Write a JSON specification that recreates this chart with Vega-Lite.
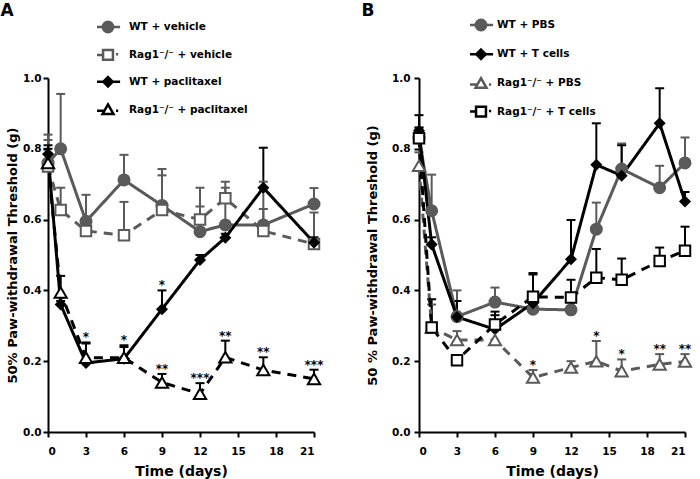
{
  "$schema": "https://vega.github.io/schema/vega-lite/v6.json",
  "padding": {"left": 0, "top": 2, "right": 0, "bottom": 0},
  "background": "white",
  "config": {
    "view": {"stroke": null},
    "font": "DejaVu Sans",
    "axis": {
      "grid": false, "domainColor": "#000", "domainWidth": 2, "tickColor": "#000", "tickWidth": 2, "tickSize": 5,
      "labelFont": "DejaVu Sans", "labelFontWeight": "bold", "labelFontSize": 10.5, "labelColor": "#000",
      "titleFont": "DejaVu Sans", "titleFontWeight": "bold", "titleFontSize": 13, "titleColor": "#000"
    },
    "title": {"font": "DejaVu Sans", "fontWeight": "bold", "fontSize": 17, "color": "#000", "anchor": "start", "frame": "bounds"}
  },
  "datasets": {
    "a": [
      {"group": "WT + vehicle", "day": 0, "v": 0.76, "up": 0.84},
      {"group": "WT + vehicle", "day": 1, "v": 0.80, "up": 0.955},
      {"group": "WT + vehicle", "day": 3, "v": 0.595, "up": 0.67},
      {"group": "WT + vehicle", "day": 6, "v": 0.712, "up": 0.783},
      {"group": "WT + vehicle", "day": 9, "v": 0.64, "up": 0.743},
      {"group": "WT + vehicle", "day": 12, "v": 0.566, "up": 0.69},
      {"group": "WT + vehicle", "day": 14, "v": 0.585, "up": 0.707},
      {"group": "WT + vehicle", "day": 17, "v": 0.585, "up": 0.707},
      {"group": "WT + vehicle", "day": 21, "v": 0.644, "up": 0.689},
      {"group": "Rag1⁻/⁻ + vehicle", "day": 0, "v": 0.75, "up": 0.825},
      {"group": "Rag1⁻/⁻ + vehicle", "day": 1, "v": 0.627, "up": 0.69},
      {"group": "Rag1⁻/⁻ + vehicle", "day": 3, "v": 0.568, "up": 0.59},
      {"group": "Rag1⁻/⁻ + vehicle", "day": 6, "v": 0.556, "up": 0.65},
      {"group": "Rag1⁻/⁻ + vehicle", "day": 9, "v": 0.627, "up": 0.725},
      {"group": "Rag1⁻/⁻ + vehicle", "day": 12, "v": 0.60, "up": 0.637},
      {"group": "Rag1⁻/⁻ + vehicle", "day": 14, "v": 0.66, "up": 0.69},
      {"group": "Rag1⁻/⁻ + vehicle", "day": 17, "v": 0.568, "up": 0.63},
      {"group": "Rag1⁻/⁻ + vehicle", "day": 21, "v": 0.531, "up": 0.62},
      {"group": "WT + paclitaxel", "day": 0, "v": 0.785, "up": 0.81},
      {"group": "WT + paclitaxel", "day": 1, "v": 0.36, "up": 0.37},
      {"group": "WT + paclitaxel", "day": 3, "v": 0.195, "up": 0.253, "star": "*"},
      {"group": "WT + paclitaxel", "day": 6, "v": 0.207, "up": 0.245, "star": "*"},
      {"group": "WT + paclitaxel", "day": 9, "v": 0.347, "up": 0.40, "star": "*"},
      {"group": "WT + paclitaxel", "day": 12, "v": 0.486, "up": 0.50},
      {"group": "WT + paclitaxel", "day": 14, "v": 0.549, "up": 0.56},
      {"group": "WT + paclitaxel", "day": 17, "v": 0.69, "up": 0.803},
      {"group": "WT + paclitaxel", "day": 21, "v": 0.535, "up": 0.55},
      {"group": "Rag1⁻/⁻ + paclitaxel", "day": 0, "v": 0.76, "up": 0.80},
      {"group": "Rag1⁻/⁻ + paclitaxel", "day": 1, "v": 0.394, "up": 0.441},
      {"group": "Rag1⁻/⁻ + paclitaxel", "day": 3, "v": 0.21, "up": 0.25},
      {"group": "Rag1⁻/⁻ + paclitaxel", "day": 6, "v": 0.21, "up": 0.24},
      {"group": "Rag1⁻/⁻ + paclitaxel", "day": 9, "v": 0.14, "up": 0.164, "star": "**"},
      {"group": "Rag1⁻/⁻ + paclitaxel", "day": 12, "v": 0.108, "up": 0.138, "star": "***"},
      {"group": "Rag1⁻/⁻ + paclitaxel", "day": 14, "v": 0.211, "up": 0.258, "star": "**"},
      {"group": "Rag1⁻/⁻ + paclitaxel", "day": 17, "v": 0.175, "up": 0.211, "star": "**"},
      {"group": "Rag1⁻/⁻ + paclitaxel", "day": 21, "v": 0.15, "up": 0.176, "star": "***"}
    ],
    "b": [
      {"group": "WT + PBS", "day": 0, "v": 0.83, "up": 0.86},
      {"group": "WT + PBS", "day": 1, "v": 0.625, "up": 0.727},
      {"group": "WT + PBS", "day": 3, "v": 0.326, "up": 0.40},
      {"group": "WT + PBS", "day": 6, "v": 0.367, "up": 0.408},
      {"group": "WT + PBS", "day": 9, "v": 0.347, "up": 0.37},
      {"group": "WT + PBS", "day": 12, "v": 0.345, "up": 0.38},
      {"group": "WT + PBS", "day": 14, "v": 0.573, "up": 0.648},
      {"group": "WT + PBS", "day": 16, "v": 0.743, "up": 0.815},
      {"group": "WT + PBS", "day": 19, "v": 0.69, "up": 0.752},
      {"group": "WT + PBS", "day": 21, "v": 0.76, "up": 0.832},
      {"group": "WT + T cells", "day": 0, "v": 0.851, "up": 0.895},
      {"group": "WT + T cells", "day": 1, "v": 0.53, "up": 0.55},
      {"group": "WT + T cells", "day": 3, "v": 0.325, "up": 0.37},
      {"group": "WT + T cells", "day": 6, "v": 0.29, "up": 0.34},
      {"group": "WT + T cells", "day": 9, "v": 0.364, "up": 0.445},
      {"group": "WT + T cells", "day": 12, "v": 0.488, "up": 0.599},
      {"group": "WT + T cells", "day": 14, "v": 0.755, "up": 0.872},
      {"group": "WT + T cells", "day": 16, "v": 0.724, "up": 0.81},
      {"group": "WT + T cells", "day": 19, "v": 0.872, "up": 0.971},
      {"group": "WT + T cells", "day": 21, "v": 0.651, "up": 0.678},
      {"group": "Rag1⁻/⁻ + PBS", "day": 0, "v": 0.752, "up": 0.79},
      {"group": "Rag1⁻/⁻ + PBS", "day": 1, "v": 0.295, "up": 0.36},
      {"group": "Rag1⁻/⁻ + PBS", "day": 3, "v": 0.26, "up": 0.285},
      {"group": "Rag1⁻/⁻ + PBS", "day": 6, "v": 0.26, "up": 0.29},
      {"group": "Rag1⁻/⁻ + PBS", "day": 9, "v": 0.154, "up": 0.175, "star": "*"},
      {"group": "Rag1⁻/⁻ + PBS", "day": 12, "v": 0.182, "up": 0.20},
      {"group": "Rag1⁻/⁻ + PBS", "day": 14, "v": 0.20, "up": 0.257, "star": "*"},
      {"group": "Rag1⁻/⁻ + PBS", "day": 16, "v": 0.172, "up": 0.205, "star": "*"},
      {"group": "Rag1⁻/⁻ + PBS", "day": 19, "v": 0.191, "up": 0.22, "star": "**"},
      {"group": "Rag1⁻/⁻ + PBS", "day": 21, "v": 0.199, "up": 0.22, "star": "**"},
      {"group": "Rag1⁻/⁻ + T cells", "day": 0, "v": 0.83, "up": 0.86},
      {"group": "Rag1⁻/⁻ + T cells", "day": 1, "v": 0.295, "up": 0.375},
      {"group": "Rag1⁻/⁻ + T cells", "day": 3, "v": 0.203, "up": 0.215},
      {"group": "Rag1⁻/⁻ + T cells", "day": 6, "v": 0.304, "up": 0.33},
      {"group": "Rag1⁻/⁻ + T cells", "day": 9, "v": 0.382, "up": 0.449},
      {"group": "Rag1⁻/⁻ + T cells", "day": 12, "v": 0.38, "up": 0.43},
      {"group": "Rag1⁻/⁻ + T cells", "day": 14, "v": 0.436, "up": 0.517},
      {"group": "Rag1⁻/⁻ + T cells", "day": 16, "v": 0.43, "up": 0.49},
      {"group": "Rag1⁻/⁻ + T cells", "day": 19, "v": 0.483, "up": 0.521},
      {"group": "Rag1⁻/⁻ + T cells", "day": 21, "v": 0.512, "up": 0.58}
    ]
  },
  "spacing": 36,
  "resolve": {"scale": {"x": "independent", "y": "independent", "color": "independent", "strokeDash": "independent", "shape": "independent", "fill": "independent", "stroke": "independent", "size": "independent"}},
  "hconcat": [
    {
      "title": {"text": "A", "dx": -6, "offset": 0},
      "width": 266, "height": 354,
      "data": {"name": "a"},
      "resolve": {"scale": {"shape": "independent", "fill": "independent", "stroke": "independent", "size": "independent"}},
      "encoding": {
        "x": {"field": "day", "type": "quantitative", "scale": {"domain": [0, 21], "nice": false},
              "axis": {"values": [0, 3, 6, 9, 12, 15, 18, 21], "title": "Time (days)", "labelPadding": 9, "titlePadding": 8, "titleFontSize": 14}},
        "y": {"field": "v", "type": "quantitative", "scale": {"domain": [0, 1], "nice": false},
              "axis": {"values": [0, 0.2, 0.4, 0.6, 0.8, 1], "format": ".1f", "title": "50% Paw-withdrawal Threshold (g)", "labelPadding": 2, "titlePadding": 3}}
      },
      "layer": [
        {
          "mark": {"type": "rule", "strokeWidth": 2},
          "encoding": {
            "y2": {"field": "up"},
            "color": {"field": "group", "type": "nominal", "legend": null,
                      "scale": {"domain": ["WT + vehicle", "Rag1⁻/⁻ + vehicle", "WT + paclitaxel", "Rag1⁻/⁻ + paclitaxel"], "range": ["#5a5a5a", "#5a5a5a", "#000000", "#000000"]}}
          }
        },
        {
          "mark": {"type": "tick", "orient": "horizontal", "size": 9, "thickness": 2, "opacity": 1},
          "encoding": {
            "y": {"field": "up", "type": "quantitative", "scale": {"domain": [0, 1], "nice": false},
                  "axis": {"values": [0, 0.2, 0.4, 0.6, 0.8, 1], "format": ".1f", "title": "50% Paw-withdrawal Threshold (g)", "labelPadding": 2, "titlePadding": 3}},
            "color": {"field": "group", "type": "nominal", "legend": null}
          }
        },
        {
          "mark": {"type": "line", "strokeWidth": 3},
          "encoding": {
            "color": {"field": "group", "type": "nominal", "legend": null},
            "strokeDash": {"field": "group", "type": "nominal", "legend": null,
                           "scale": {"domain": ["WT + vehicle", "Rag1⁻/⁻ + vehicle", "WT + paclitaxel", "Rag1⁻/⁻ + paclitaxel"], "range": [[1, 0], [9, 7], [1, 0], [9, 7]]}}
          }
        },
        {
          "mark": {"type": "point", "filled": true, "opacity": 1, "strokeWidth": 2},
          "encoding": {
            "shape": {"field": "group", "type": "nominal", "legend": null,
                      "scale": {"domain": ["WT + vehicle", "Rag1⁻/⁻ + vehicle", "WT + paclitaxel", "Rag1⁻/⁻ + paclitaxel"], "range": ["circle", "square", "diamond", "triangle-up"]}},
            "fill": {"field": "group", "type": "nominal", "legend": null,
                     "scale": {"domain": ["WT + vehicle", "Rag1⁻/⁻ + vehicle", "WT + paclitaxel", "Rag1⁻/⁻ + paclitaxel"], "range": ["#5a5a5a", "#ffffff", "#000000", "#ffffff"]}},
            "stroke": {"field": "group", "type": "nominal", "legend": null,
                       "scale": {"domain": ["WT + vehicle", "Rag1⁻/⁻ + vehicle", "WT + paclitaxel", "Rag1⁻/⁻ + paclitaxel"], "range": ["#5a5a5a", "#5a5a5a", "#000000", "#000000"]}},
            "size": {"field": "group", "type": "ordinal", "legend": null,
                     "scale": {"type": "ordinal", "domain": ["WT + vehicle", "Rag1⁻/⁻ + vehicle", "WT + paclitaxel", "Rag1⁻/⁻ + paclitaxel"], "range": [121, 110, 85, 150]}}
          }
        },
        {
          "transform": [{"filter": "datum.star"}],
          "mark": {"type": "text", "baseline": "alphabetic", "dy": -1, "fontSize": 12, "fontWeight": "bold", "fill": "#000"},
          "encoding": {
            "y": {"field": "up", "type": "quantitative", "scale": {"domain": [0, 1], "nice": false},
                  "axis": {"values": [0, 0.2, 0.4, 0.6, 0.8, 1], "format": ".1f", "title": "50% Paw-withdrawal Threshold (g)", "labelPadding": 2, "titlePadding": 3}},
            "text": {"field": "star"}
          }
        },
        {
          "transform": [{"filter": "false"}],
          "mark": {"type": "point", "filled": true, "opacity": 1},
          "encoding": {
            "shape": {"field": "group", "type": "nominal",
                      "scale": {"domain": ["WT + vehicle", "Rag1⁻/⁻ + vehicle", "WT + paclitaxel", "Rag1⁻/⁻ + paclitaxel"],
                                "range": ["M-2,0H2.2M0.95,0A0.95,0.95,0,1,1,-0.95,0A0.95,0.95,0,1,1,0.95,0Z",
                                          "M-2,0H-0.9M-0.9,-0.9H0.9V0.9H-0.9ZM1.45,-0.1H1.85",
                                          "M-2,0H2.2M0,-0.85L0.85,0L0,0.85L-0.85,0Z",
                                          "M-2,0.2H-0.7M0,-0.95L1,0.8H-1ZM1.45,0.2H1.85"]},
                      "legend": {"title": null, "orient": "none", "legendX": 53, "legendY": -58, "direction": "vertical",
                                 "symbolSize": 121, "symbolStrokeWidth": 2.5, "labelFont": "DejaVu Sans", "labelFontSize": 10.5,
                                 "labelFontWeight": "bold", "labelColor": "#000", "labelOffset": 14, "rowPadding": 6.9,
                                 "padding": 0, "labelLimit": 300}},
            "fill": {"field": "group", "type": "nominal",
                     "scale": {"domain": ["WT + vehicle", "Rag1⁻/⁻ + vehicle", "WT + paclitaxel", "Rag1⁻/⁻ + paclitaxel"], "range": ["#5a5a5a", "#ffffff", "#000000", "#ffffff"]}},
            "stroke": {"field": "group", "type": "nominal",
                       "scale": {"domain": ["WT + vehicle", "Rag1⁻/⁻ + vehicle", "WT + paclitaxel", "Rag1⁻/⁻ + paclitaxel"], "range": ["#5a5a5a", "#5a5a5a", "#000000", "#000000"]}}
          }
        }
      ]
    },
    {
      "title": {"text": "B", "dx": -5, "offset": -2},
      "width": 266, "height": 354,
      "data": {"name": "b"},
      "resolve": {"scale": {"shape": "independent", "fill": "independent", "stroke": "independent", "size": "independent"}},
      "encoding": {
        "x": {"field": "day", "type": "quantitative", "scale": {"domain": [0, 21], "nice": false},
              "axis": {"values": [0, 3, 6, 9, 12, 15, 18, 21], "title": "Time (days)", "labelPadding": 9, "titlePadding": 8, "titleFontSize": 14}},
        "y": {"field": "v", "type": "quantitative", "scale": {"domain": [0, 1], "nice": false},
              "axis": {"values": [0, 0.2, 0.4, 0.6, 0.8, 1], "format": ".1f", "title": "50 % Paw-withdrawal Threshold (g)", "labelPadding": 4, "titlePadding": 12}}
      },
      "layer": [
        {
          "mark": {"type": "rule", "strokeWidth": 2},
          "encoding": {
            "y2": {"field": "up"},
            "color": {"field": "group", "type": "nominal", "legend": null,
                      "scale": {"domain": ["WT + PBS", "WT + T cells", "Rag1⁻/⁻ + PBS", "Rag1⁻/⁻ + T cells"], "range": ["#5a5a5a", "#000000", "#5a5a5a", "#000000"]}}
          }
        },
        {
          "mark": {"type": "tick", "orient": "horizontal", "size": 9, "thickness": 2, "opacity": 1},
          "encoding": {
            "y": {"field": "up", "type": "quantitative", "scale": {"domain": [0, 1], "nice": false},
                  "axis": {"values": [0, 0.2, 0.4, 0.6, 0.8, 1], "format": ".1f", "title": "50 % Paw-withdrawal Threshold (g)", "labelPadding": 4, "titlePadding": 12}},
            "color": {"field": "group", "type": "nominal", "legend": null}
          }
        },
        {
          "mark": {"type": "line", "strokeWidth": 3},
          "encoding": {
            "color": {"field": "group", "type": "nominal", "legend": null},
            "strokeDash": {"field": "group", "type": "nominal", "legend": null,
                           "scale": {"domain": ["WT + PBS", "WT + T cells", "Rag1⁻/⁻ + PBS", "Rag1⁻/⁻ + T cells"], "range": [[1, 0], [1, 0], [9, 7], [9, 7]]}}
          }
        },
        {
          "mark": {"type": "point", "filled": true, "opacity": 1, "strokeWidth": 2},
          "encoding": {
            "shape": {"field": "group", "type": "nominal", "legend": null,
                      "scale": {"domain": ["WT + PBS", "WT + T cells", "Rag1⁻/⁻ + PBS", "Rag1⁻/⁻ + T cells"], "range": ["circle", "diamond", "triangle-up", "square"]}},
            "fill": {"field": "group", "type": "nominal", "legend": null,
                     "scale": {"domain": ["WT + PBS", "WT + T cells", "Rag1⁻/⁻ + PBS", "Rag1⁻/⁻ + T cells"], "range": ["#5a5a5a", "#000000", "#ffffff", "#ffffff"]}},
            "stroke": {"field": "group", "type": "nominal", "legend": null,
                       "scale": {"domain": ["WT + PBS", "WT + T cells", "Rag1⁻/⁻ + PBS", "Rag1⁻/⁻ + T cells"], "range": ["#5a5a5a", "#000000", "#5a5a5a", "#000000"]}},
            "size": {"field": "group", "type": "ordinal", "legend": null,
                     "scale": {"type": "ordinal", "domain": ["WT + PBS", "WT + T cells", "Rag1⁻/⁻ + PBS", "Rag1⁻/⁻ + T cells"], "range": [121, 85, 150, 110]}}
          }
        },
        {
          "transform": [{"filter": "datum.star"}],
          "mark": {"type": "text", "baseline": "alphabetic", "dy": -1, "fontSize": 12, "fontWeight": "bold", "fill": "#000"},
          "encoding": {
            "y": {"field": "up", "type": "quantitative", "scale": {"domain": [0, 1], "nice": false},
                  "axis": {"values": [0, 0.2, 0.4, 0.6, 0.8, 1], "format": ".1f", "title": "50 % Paw-withdrawal Threshold (g)", "labelPadding": 4, "titlePadding": 12}},
            "text": {"field": "star"}
          }
        },
        {
          "transform": [{"filter": "false"}],
          "mark": {"type": "point", "filled": true, "opacity": 1},
          "encoding": {
            "shape": {"field": "group", "type": "nominal",
                      "scale": {"domain": ["WT + PBS", "WT + T cells", "Rag1⁻/⁻ + PBS", "Rag1⁻/⁻ + T cells"],
                                "range": ["M-2,0H2.2M0.95,0A0.95,0.95,0,1,1,-0.95,0A0.95,0.95,0,1,1,0.95,0Z",
                                          "M-2,0H2.2M0,-0.85L0.85,0L0,0.85L-0.85,0Z",
                                          "M-2,0.2H-0.7M0,-0.95L1,0.8H-1ZM1.45,0.2H1.85",
                                          "M-2,0H-0.9M-0.9,-0.9H0.9V0.9H-0.9ZM1.45,-0.1H1.85"]},
                      "legend": {"title": null, "orient": "none", "legendX": 55, "legendY": -60, "direction": "vertical",
                                 "symbolSize": 121, "symbolStrokeWidth": 2.5, "labelFont": "DejaVu Sans", "labelFontSize": 10.5,
                                 "labelFontWeight": "bold", "labelColor": "#000", "labelOffset": 9, "rowPadding": 8.2,
                                 "padding": 0, "labelLimit": 300}},
            "fill": {"field": "group", "type": "nominal",
                     "scale": {"domain": ["WT + PBS", "WT + T cells", "Rag1⁻/⁻ + PBS", "Rag1⁻/⁻ + T cells"], "range": ["#5a5a5a", "#000000", "#ffffff", "#ffffff"]}},
            "stroke": {"field": "group", "type": "nominal",
                       "scale": {"domain": ["WT + PBS", "WT + T cells", "Rag1⁻/⁻ + PBS", "Rag1⁻/⁻ + T cells"], "range": ["#5a5a5a", "#000000", "#5a5a5a", "#000000"]}}
          }
        }
      ]
    }
  ]
}
